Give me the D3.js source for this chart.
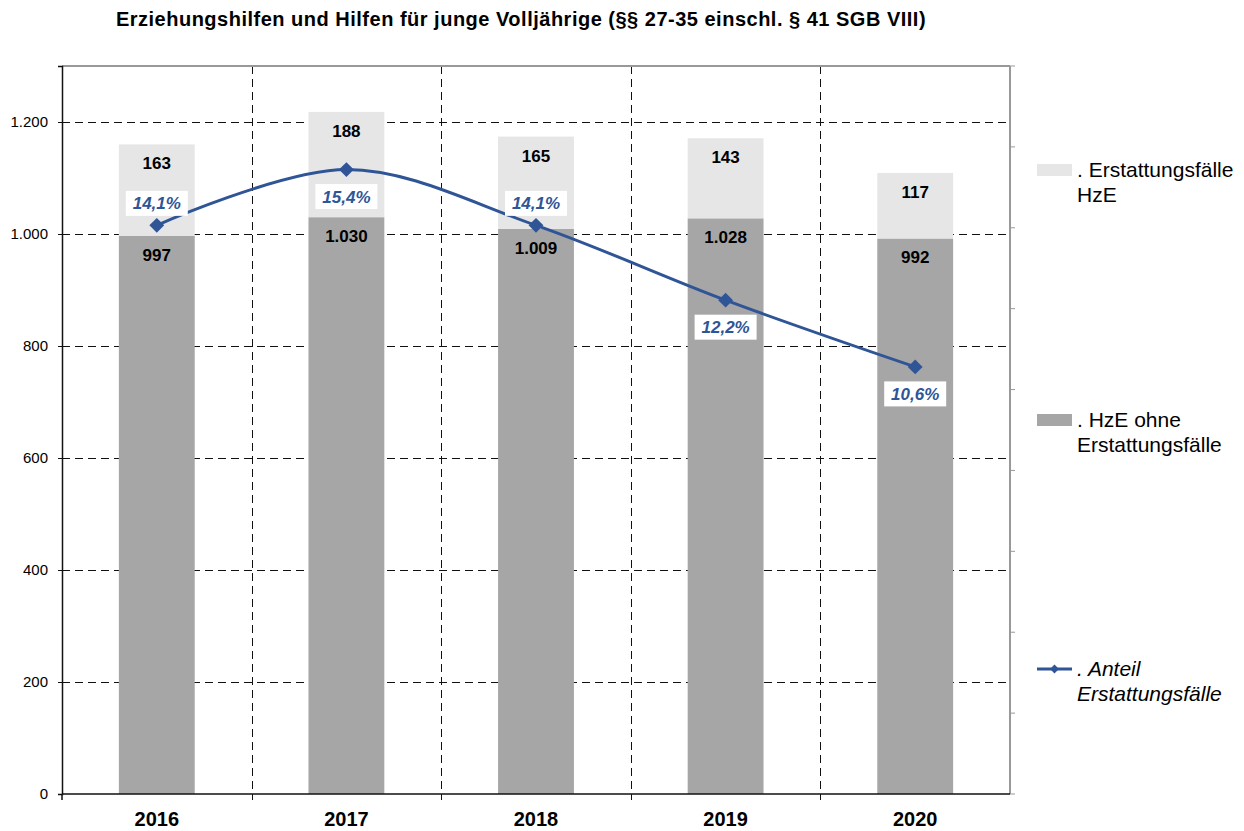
<!DOCTYPE html>
<html>
<head>
<meta charset="utf-8">
<script src="https://cdn.jsdelivr.net/npm/d3@7"></script>
<style>
  body { margin: 0; background: #fff; }
  text { font-family: "Liberation Sans", Arial, sans-serif; }
</style>
</head>
<body>
<div id="chart"></div>
<script>
// Daten
var years = ["2016", "2017", "2018", "2019", "2020"];
var hzeOhne = [997, 1030, 1009, 1028, 992];        // HzE ohne Erstattungsfälle
var erstattung = [163, 188, 165, 143, 117];        // Erstattungsfälle HzE
var anteil = [14.06, 15.44, 14.06, 12.21, 10.56];  // Anteil Erstattungsfälle in %
var yTicks = [0, 200, 400, 600, 800, 1000, 1200];
var y2Ticks = [0, 2, 4, 6, 8, 10, 12, 14, 16, 18];
var pctSide = ["above", "below", "above", "below", "below"];

var title = "Erziehungshilfen und Hilfen  für junge Volljährige (§§ 27-35 einschl. § 41 SGB VIII)";
var legendItems = [
    {key: "erst", lines: [". Erstattungsfälle", "HzE"]},
    {key: "ohne", lines: [". HzE ohne", "Erstattungsfälle"]},
    {key: "anteil", lines: [". Anteil", "Erstattungsfälle"]}
];

var col = {light: "#e6e6e6", dark: "#a6a6a6", line: "#2f5597"};

var margin = {top: 66, left: 62};
var W = 948, H = 728;

var de = d3.formatLocale({decimal: ",", thousands: ".", grouping: [3], currency: ["", "€"]});
var fmt = de.format(",d");
var pfmt = de.format(".1f");

var svg = d3.select("#chart").append("svg")
    .attr("width", 1244)
    .attr("height", 831);

svg.append("text")
    .attr("x", 521)
    .attr("y", 26)
    .attr("text-anchor", "middle")
    .attr("font-size", 20)
    .attr("letter-spacing", 0.5)
    .attr("font-weight", "bold")
    .text(title);

var g = svg.append("g")
    .attr("transform", "translate(" + margin.left + "," + margin.top + ")");

var x = d3.scaleBand().domain(years).range([0, W]);
var y = d3.scaleLinear().domain([0, 1300]).range([H, 0]);
var y2 = d3.scaleLinear().domain([0, 18]).range([H, 0]);
var bw = x.bandwidth() * 0.4;
var cx = function(i) { return x(years[i]) + x.bandwidth() / 2; };

// gitter
g.selectAll(".hgrid").data(yTicks.filter(function(d) { return d > 0; }))
    .enter().append("line")
    .attr("x1", 0).attr("x2", W)
    .attr("y1", function(d) { return Math.round(y(d)) + 0.5; })
    .attr("y2", function(d) { return Math.round(y(d)) + 0.5; })
    .attr("stroke", "#111").attr("stroke-width", 1)
    .attr("stroke-dasharray", "8,5");

g.selectAll(".vgrid").data(years.slice(1))
    .enter().append("line")
    .attr("x1", function(d) { return Math.round(x(d)) + 0.5; })
    .attr("x2", function(d) { return Math.round(x(d)) + 0.5; })
    .attr("y1", 0).attr("y2", H + 6)
    .attr("stroke", "#111").attr("stroke-width", 1)
    .attr("stroke-dasharray", "8,5");

// rahmen oben / rechts
g.append("line").attr("x1", 0).attr("x2", W).attr("y1", 0).attr("y2", 0)
    .attr("stroke", "#999").attr("stroke-width", 2);
g.append("line").attr("x1", W).attr("x2", W).attr("y1", 0).attr("y2", H)
    .attr("stroke", "#999").attr("stroke-width", 2);

// rechte achse, nur striche
g.selectAll(".y2tick").data(y2Ticks)
    .enter().append("line")
    .attr("x1", W).attr("x2", W + 5)
    .attr("y1", function(d) { return y2(d); })
    .attr("y2", function(d) { return y2(d); })
    .attr("stroke", "#999").attr("stroke-width", 1);

// balken
var bars = g.selectAll(".bar").data(years).enter().append("g");
bars.append("rect")
    .attr("x", function(d, i) { return cx(i) - bw / 2; })
    .attr("width", bw)
    .attr("y", function(d, i) { return y(hzeOhne[i]); })
    .attr("height", function(d, i) { return H - y(hzeOhne[i]); })
    .attr("fill", col.dark);
bars.append("rect")
    .attr("x", function(d, i) { return cx(i) - bw / 2; })
    .attr("width", bw)
    .attr("y", function(d, i) { return y(hzeOhne[i] + erstattung[i]); })
    .attr("height", function(d, i) { return y(hzeOhne[i]) - y(hzeOhne[i] + erstattung[i]); })
    .attr("fill", col.light);

bars.append("text")
    .attr("x", function(d, i) { return cx(i); })
    .attr("y", function(d, i) { return y(hzeOhne[i]) + 25; })
    .attr("text-anchor", "middle")
    .attr("font-size", 17).attr("font-weight", "bold")
    .text(function(d, i) { return fmt(hzeOhne[i]); });
bars.append("text")
    .attr("x", function(d, i) { return cx(i); })
    .attr("y", function(d, i) { return y(hzeOhne[i] + erstattung[i]) + 25; })
    .attr("text-anchor", "middle")
    .attr("font-size", 17).attr("font-weight", "bold")
    .text(function(d, i) { return fmt(erstattung[i]); });

// achsen
var yAxis = g.append("g")
    .call(d3.axisLeft(y).tickValues(yTicks).tickSize(4).tickPadding(10).tickFormat(fmt));
yAxis.select(".domain").attr("stroke", "#111").attr("stroke-width", 1.5);
yAxis.selectAll(".tick line").attr("stroke", "#111");
yAxis.selectAll("text").attr("font-size", 15).attr("font-family", "Liberation Sans, Arial, sans-serif").attr("fill", "#000");

g.append("line").attr("x1", 0).attr("x2", W).attr("y1", H).attr("y2", H)
    .attr("stroke", "#111").attr("stroke-width", 1.5);
g.append("line").attr("x1", 0).attr("x2", 0).attr("y1", H).attr("y2", H + 6)
    .attr("stroke", "#111").attr("stroke-width", 1.5);

g.selectAll(".xlab").data(years).enter().append("text")
    .attr("x", function(d, i) { return cx(i); })
    .attr("y", H + 32)
    .attr("text-anchor", "middle")
    .attr("font-size", 20).attr("font-weight", "bold")
    .text(function(d) { return d; });

// linie
var line = d3.line()
    .x(function(d, i) { return cx(i); })
    .y(function(d) { return y2(d); })
    .curve(d3.curveCardinal.tension(0));

g.append("path").datum(anteil)
    .attr("d", line)
    .attr("fill", "none")
    .attr("stroke", col.line)
    .attr("stroke-width", 3);

var diamond = d3.symbol().type(d3.symbolDiamond2).size(140);
g.selectAll(".marker").data(anteil).enter().append("path")
    .attr("d", diamond)
    .attr("transform", function(d, i) { return "translate(" + cx(i) + "," + y2(d) + ")"; })
    .attr("fill", col.line);

// prozent-labels
var pl = g.selectAll(".plab").data(anteil).enter().append("g")
    .attr("transform", function(d, i) {
        var dy = pctSide[i] == "above" ? -22 : 27;
        return "translate(" + cx(i) + "," + (y2(d) + dy) + ")";
    });
pl.append("rect")
    .attr("x", -31).attr("y", -12.5)
    .attr("width", 62).attr("height", 25)
    .attr("fill", "#fff");
pl.append("text")
    .attr("text-anchor", "middle")
    .attr("y", 6)
    .attr("font-size", 17).attr("font-weight", "bold").attr("font-style", "italic")
    .attr("fill", col.line)
    .text(function(d) { return pfmt(d) + "%"; });

// legende
var legY = {erst: 170, ohne: 420, anteil: 669};
var lg = svg.selectAll(".leg").data(legendItems).enter().append("g")
    .attr("transform", function(d) { return "translate(1037," + legY[d.key] + ")"; });
lg.each(function(d) {
    var s = d3.select(this);
    if (d.key == "anteil") {
        s.append("line").attr("x1", 0).attr("x2", 35).attr("y1", 0).attr("y2", 0)
            .attr("stroke", col.line).attr("stroke-width", 3);
        s.append("path").attr("d", d3.symbol().type(d3.symbolDiamond2).size(50))
            .attr("transform", "translate(17.5,0)").attr("fill", col.line);
    } else {
        s.append("rect").attr("x", 0).attr("y", -6).attr("width", 35).attr("height", 12)
            .attr("fill", d.key == "erst" ? col.light : col.dark);
    }
    var t = s.append("text")
        .attr("x", 40).attr("y", 7)
        .attr("font-size", 21)
        .attr("font-style", d.key == "anteil" ? "italic" : "normal");
    d.lines.forEach(function(l, k) {
        t.append("tspan").attr("x", 40).attr("dy", k == 0 ? 0 : 25).text(l);
    });
});
</script>
</body>
</html>
